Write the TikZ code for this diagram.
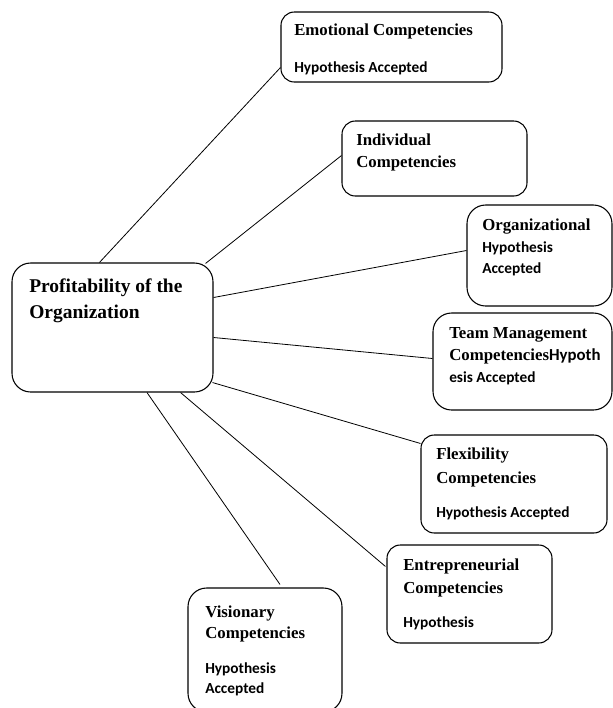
\documentclass[tikz,border=0pt]{standalone}
\usepackage{fontspec}
\setmainfont{Liberation Serif}
\newfontfamily\calib{Carlito}
\usepackage{tikz}
\usetikzlibrary{calc}
\tikzstyle{box} = [draw, line width=0.8pt, rounded corners=10pt, inner sep=0pt]
\tikzstyle{bigbox} = [box, rounded corners=14pt]
\tikzstyle{hd} = [anchor=base west, inner sep=0pt, font=\fontsize{12.6}{15}\selectfont\bfseries]
\tikzstyle{bighd} = [hd, font=\fontsize{14.6}{18}\selectfont\bfseries]
\tikzstyle{res} = [anchor=base west, inner sep=0pt, font=\calib\fontsize{11.5}{14}\selectfont\bfseries]
\tikzstyle{link} = [line width=0.6pt]

\begin{document}
\begin{tikzpicture}[x=0.75pt,y=-0.75pt]
\useasboundingbox (0,0) rectangle (613,708);

% boxes
\node[bigbox, minimum width=150.75pt, minimum height=96.75pt] (prof) at (112.5,327.5) {};
\node[box, minimum width=165.75pt, minimum height=52.5pt] (emo) at (391.5,47) {};
\node[box, minimum width=138.75pt, minimum height=56.25pt] (ind) at (434.5,158.5) {};
\node[bigbox, minimum width=108.75pt, minimum height=75.75pt] (org) at (539.5,255.5) {};
\node[bigbox, minimum width=134.25pt, minimum height=72.75pt] (team) at (522.5,361.5) {};
\node[box, minimum width=139.5pt, minimum height=73.5pt] (flex) at (514,484) {};
\node[box, minimum width=123.75pt, minimum height=73.5pt] (entr) at (469.5,594) {};
\node[bigbox, minimum width=115.5pt, minimum height=93pt] (vis) at (265,650) {};

% texts
\node[bighd] (prof1) at (29,292) {Profitability of the};
\node[bighd] (prof2) at (29,318) {Organization};

\node[hd] (emo1) at (294,35) {Emotional Competencies};
\node[res] (emo2) at (294,72) {Hypothesis Accepted};

\node[hd] (ind1) at (356,145) {Individual};
\node[hd] (ind2) at (356,167) {Competencies};

\node[hd] (org1) at (482,230) {Organizational};
\node[res] (org2) at (482,252) {Hypothesis};
\node[res] (org3) at (482,273) {Accepted};

\node[hd] (team1) at (449,338) {Team Management};
\node[hd] (team2) at (449,360) {Competencies{\calib Hypoth}};
\node[res] (team3) at (449,382) {esis Accepted};

\node[hd] (flex1) at (436,459) {Flexibility};
\node[hd] (flex2) at (436,483) {Competencies};
\node[res] (flex3) at (436,517) {Hypothesis Accepted};

\node[hd] (entr1) at (403,570) {Entrepreneurial};
\node[hd] (entr2) at (403,593) {Competencies};
\node[res] (entr3) at (403,627) {Hypothesis};

\node[hd] (vis1) at (205,617) {Visionary};
\node[hd] (vis2) at (205,638) {Competencies};
\node[res] (vis3) at (205,673) {Hypothesis};
\node[res] (vis4) at (205,693) {Accepted};

% links
\draw[link] ($(prof.north west)+(88,0)$) -- ($(emo.south west)+(0,-15)$);
\draw[link] ($(prof.north east)+(-8,1)$) -- ($(ind.west)+(0,-3)$);
\draw[link] ($(prof.east)+(0,-30)$) -- ($(org.west)+(0,-5)$);
\draw[link] ($(prof.east)+(0,10)$) -- ($(team.west)+(0,-3)$);
\draw[link] ($(prof.south east)+(-1,-10)$) -- ($(flex.north west)+(0,9)$);
\draw[link] ($(prof.south east)+(-33,0)$) -- ($(entr.north west)+(-1,22)$);
\draw[link] ($(prof.south)+(34.5,0)$) -- ($(vis.north)+(15,-3)$);
\end{tikzpicture}
\end{document}
